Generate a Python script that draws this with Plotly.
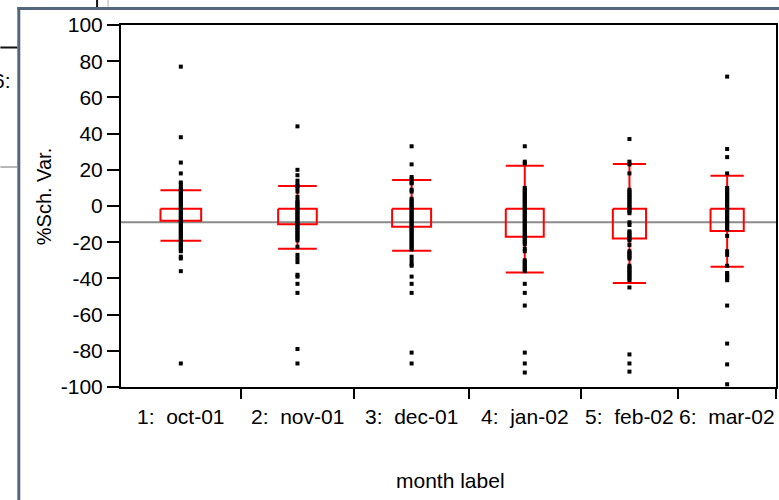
import plotly.graph_objects as go

# ---------------- data ----------------
month_labels = ["1:  oct-01", "2:  nov-01", "3:  dec-01", "4:  jan-02", "5:  feb-02", "6:  mar-02"]
group_sizes = [120, 114, 115, 112, 98, 98]  # relative group widths (sample size)

g1 = [77, 38, 24, 18, 13, 12, 10, 9, 8, 7, 6, 5, 4, 3, 2, 1, 0, -1, -2, -3, -4, -5, -6, -7,
      -8, -9, -10, -11, -12, -13, -14, -15, -16, -17, -18, -19, -20, -21, -22, -23, -24, -25,
      -28, -29, -36, -87]
g2 = [44, 20, 17, 14, 12, 11, 10, 8, 5, 3, 2, 1, 0, -1, -2, -3, -4, -5, -6, -7, -8, -9, -10,
      -11, -12, -13, -14, -15, -16, -17, -18, -19, -22.5, -27, -29, -31, -38, -39, -43, -48, -79, -87]
g3 = [33, 23, 16, 15, 13, 12.5, 9, 8, 4, 3, 2, 1, 0, -1, -2, -3, -4, -5, -6, -7, -8, -9, -10,
      -11, -12, -13, -14, -15, -16, -17, -18, -19, -20, -21, -22, -23, -24, -28, -30, -32, -33,
      -39, -43, -48, -81, -87]
g4 = [33, 24.5, 23.5, 10, 9, 8, 7, 6, 5, 4, 3, 2, 1, 0, -1, -2, -3, -4, -5, -6, -7, -8, -9,
      -10, -11, -12, -13, -14, -15, -16, -17, -18, -19, -20, -21, -23.5, -25, -30, -31, -32, -33,
      -34, -35, -36, -43, -48, -55, -81, -87, -92]
g5 = [37, 24.5, 23, 18, 9, 8, 7, 6, 5, 4, 3, 2, 1, 0, -1, -2, -3, -4, -9, -10.5, -14, -15, -16,
      -17, -18, -19, -21.5, -25, -26, -27, -28, -29, -33, -34, -35, -36, -37, -38, -39, -40, -41,
      -45, -82, -87, -91.5]
g6 = [71.5, 31.5, 27, 18, 10, 9, 8, 7, 6, 5, 4, 3, 2, 1, 0, -1, -2, -3, -4, -5, -6, -7, -8, -9,
      -10, -11, -12, -13, -16.5, -25, -27, -33, -37, -38, -39, -40, -41, -55, -76, -87.5, -98.5]
groups = [g1, g2, g3, g4, g5, g6]

box_hi = [-1.5, -1.5, -1.5, -1.5, -1.5, -1.5]
box_lo = [-8.1, -10.1, -11.4, -17.0, -18.0, -13.8]
whisk_hi = [8.7, 11.0, 14.4, 22.3, 23.2, 16.7]
whisk_lo = [-19.2, -23.6, -24.7, -36.8, -42.5, -33.5]
grand_mean = -9.0

y_ticks = [-100, -80, -60, -40, -20, 0, 20, 40, 60, 80, 100]
y_tick_text = ["-100", "-80", "-60", "-40", "-20", "0", "20", "40", "60", "80", "100"]

# ---------------- layout helpers ----------------
W, H = 779, 500
L, R, T, B = 121, 1, 25, 113
PW, PH = W - L - R, H - T - B
FONT = "Liberation Sans, Arial, sans-serif"


def px(x):
    return (x - L) / PW


def py(y):
    return (H - B - y) / PH


bounds = [0]
for s in group_sizes:
    bounds.append(bounds[-1] + s)
centers = [(bounds[i] + bounds[i + 1]) / 2 for i in range(len(group_sizes))]
total = bounds[-1]
BOXFRAC = 0.34

fig = go.Figure()

# grand mean line
fig.add_trace(go.Scatter(x=[0, total], y=[grand_mean, grand_mean], mode="lines",
                         line=dict(color="#8a8a8a", width=2), hoverinfo="skip", showlegend=False))

# boxes + whiskers
bx, by = [], []
for i, c in enumerate(centers):
    hw = group_sizes[i] * BOXFRAC / 2
    bx += [c - hw, c + hw, c + hw, c - hw, c - hw, None]
    by += [box_hi[i], box_hi[i], box_lo[i], box_lo[i], box_hi[i], None]
    bx += [c - hw, c + hw, None, c - hw, c + hw, None]
    by += [whisk_hi[i], whisk_hi[i], None, whisk_lo[i], whisk_lo[i], None]
    bx += [c, c, None, c, c, None]
    by += [whisk_hi[i], box_hi[i], None, box_lo[i], whisk_lo[i], None]
fig.add_trace(go.Scatter(x=bx, y=by, mode="lines", line=dict(color="#ff0000", width=2),
                         hoverinfo="skip", showlegend=False))

# points
for i, g in enumerate(groups):
    fig.add_trace(go.Scatter(x=[centers[i]] * len(g), y=g, mode="markers",
                             marker=dict(symbol="square", size=4, color="black", line=dict(width=0)),
                             showlegend=False))

fig.update_xaxes(range=[0, total], tickvals=bounds[1:], ticktext=[""] * len(group_sizes),
                 ticks="outside", ticklen=10, tickwidth=1.5, tickcolor="black",
                 showline=True, linecolor="black", linewidth=2, mirror=True,
                 showgrid=False, zeroline=False)
fig.update_yaxes(range=[-100, 100], tickvals=y_ticks, ticktext=y_tick_text,
                 ticks="outside", ticklen=12, tickwidth=1.5,
                 tickcolor="black", tickfont=dict(family=FONT, size=21, color="black"),
                 showline=True, linecolor="black", linewidth=2, mirror=True,
                 showgrid=False, zeroline=False)

annotations = []
for i, c in enumerate(centers):
    annotations.append(dict(x=c, xref="x", y=py(416), yref="paper", text=month_labels[i],
                            showarrow=False, xanchor="center", yanchor="middle",
                            font=dict(family=FONT, size=21, color="black")))
annotations.append(dict(x=px(452), xref="paper", y=py(480), yref="paper", text="month label",
                        showarrow=False, xanchor="center", yanchor="middle",
                        font=dict(family=FONT, size=21, color="black")))
annotations.append(dict(x=px(44), xref="paper", y=py(197), yref="paper", text="%Sch. Var.",
                        textangle=-90, showarrow=False, xanchor="center", yanchor="middle",
                        font=dict(family=FONT, size=20, color="black")))
annotations.append(dict(x=px(13), xref="paper", y=py(80), yref="paper", text="6:",
                        showarrow=False, xanchor="right", yanchor="middle",
                        font=dict(family=FONT, size=21, color="black")))

FRAME = "#52677c"
shapes = [
    dict(type="line", xref="paper", yref="paper", x0=px(18.5), x1=px(18.5), y0=py(7), y1=py(520),
         line=dict(color=FRAME, width=3)),
    dict(type="line", xref="paper", yref="paper", x0=px(17), x1=px(800), y0=py(8.5), y1=py(8.5),
         line=dict(color=FRAME, width=3)),
    dict(type="line", xref="paper", yref="paper", x0=px(97), x1=px(97), y0=py(0), y1=py(7),
         line=dict(color="#111111", width=2)),
    dict(type="line", xref="paper", yref="paper", x0=px(108), x1=px(108), y0=py(0), y1=py(7),
         line=dict(color="#b0b0b0", width=1)),
    dict(type="line", xref="paper", yref="paper", x0=px(0), x1=px(17), y0=py(47.5), y1=py(47.5),
         line=dict(color="#111111", width=2)),
    dict(type="line", xref="paper", yref="paper", x0=px(0), x1=px(17), y0=py(167), y1=py(167),
         line=dict(color="#a0a0a0", width=1.5)),
]

fig.update_layout(width=W, height=H, margin=dict(l=L, r=R, t=T, b=B, pad=0),
                  paper_bgcolor="white", plot_bgcolor="white",
                  font=dict(family=FONT, color="black"),
                  annotations=annotations, shapes=shapes, showlegend=False)

fig.write_html("out.html", config={"displayModeBar": False},
               post_script="document.body.style.margin='0';document.body.style.overflow='hidden';")
